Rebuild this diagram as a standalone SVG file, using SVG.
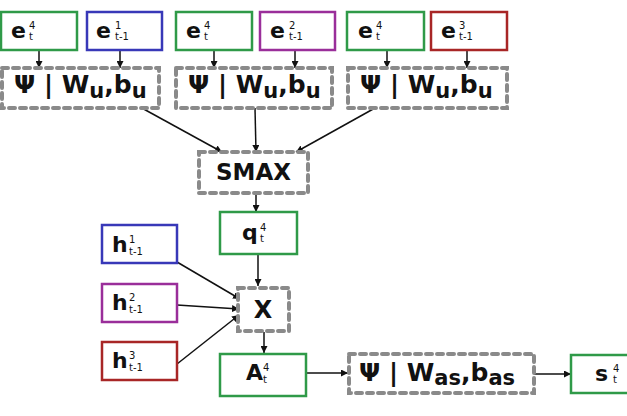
<svg xmlns="http://www.w3.org/2000/svg" width="627" height="416" viewBox="0 0 627 416">
<style>
.box{fill:#fff;stroke-width:2.5}
.g{stroke:#2f9a48}.b{stroke:#3838b8}.p{stroke:#9a2e9a}.r{stroke:#a82626}
.d{fill:#fff;stroke:#8a8a8a;stroke-width:4;stroke-dasharray:6 5;stroke-linecap:round}
text{font-family:"DejaVu Sans",sans-serif;fill:#111}
.big{font-weight:bold;font-size:22px}
.sm{font-size:10px}
.op{font-weight:bold;font-size:25px}
.sb{font-weight:bold;font-size:21px}
.c line{stroke:#111;stroke-width:1.5;marker-end:url(#ah)}
</style>
<defs>
<marker id="ah" viewBox="0 0 10 10" refX="10" refY="5" markerWidth="7" markerHeight="7" orient="auto" markerUnits="userSpaceOnUse"><path d="M0,0L10,5L0,10z" fill="#111"/></marker>
</defs>
<g class="c">
<line x1="39" y1="50" x2="39" y2="68"/>
<line x1="120" y1="50" x2="120" y2="68"/>
<line x1="214" y1="50" x2="214" y2="68"/>
<line x1="295" y1="50" x2="295" y2="68"/>
<line x1="387" y1="50" x2="387" y2="68"/>
<line x1="467" y1="50" x2="467" y2="68"/>
<line x1="140" y1="107" x2="222" y2="152"/>
<line x1="255" y1="108" x2="256" y2="152"/>
<line x1="375" y1="108" x2="296" y2="152"/>
<line x1="256" y1="193" x2="256" y2="212"/>
<line x1="258" y1="254" x2="258" y2="286"/>
<line x1="177" y1="262" x2="240" y2="299"/>
<line x1="177" y1="305" x2="239" y2="309"/>
<line x1="177" y1="364" x2="239" y2="315"/>
<line x1="264" y1="332" x2="264" y2="353"/>
<line x1="306" y1="373" x2="348" y2="373"/>
<line x1="534" y1="374" x2="571" y2="374"/>
</g>
<g id="e4t_a"><rect class="box g" x="1" y="12" width="76" height="38"/><text class="big" x="11" y="38">e</text><text class="sm" x="29" y="29">4</text><text class="sm" x="29" y="40">t</text></g>
<g id="e1t1"><rect class="box b" x="87" y="12" width="75" height="38"/><text class="big" x="96" y="38">e</text><text class="sm" x="115" y="29">1</text><text class="sm" x="115" y="40">t-1</text></g>
<g id="e4t_b"><rect class="box g" x="176" y="12" width="76" height="38"/><text class="big" x="186" y="38">e</text><text class="sm" x="204" y="29">4</text><text class="sm" x="204" y="40">t</text></g>
<g id="e2t1"><rect class="box p" x="260" y="12" width="75" height="38"/><text class="big" x="270" y="38">e</text><text class="sm" x="289" y="29">2</text><text class="sm" x="289" y="40">t-1</text></g>
<g id="e4t_c"><rect class="box g" x="347" y="12" width="77" height="38"/><text class="big" x="358" y="38">e</text><text class="sm" x="376" y="29">4</text><text class="sm" x="376" y="40">t</text></g>
<g id="e3t1"><rect class="box r" x="431" y="12" width="76" height="38"/><text class="big" x="441" y="38">e</text><text class="sm" x="459" y="29">3</text><text class="sm" x="459" y="40">t-1</text></g>
<g id="psi1"><rect class="d" x="2" y="68" width="157" height="40"/><text class="op" x="14" y="93">Ψ | W<tspan class="sb" dy="5">u</tspan><tspan dy="-5">,b</tspan><tspan class="sb" dy="5">u</tspan></text></g>
<g id="psi2"><rect class="d" x="176" y="68" width="156" height="40"/><text class="op" x="188" y="93">Ψ | W<tspan class="sb" dy="5">u</tspan><tspan dy="-5">,b</tspan><tspan class="sb" dy="5">u</tspan></text></g>
<g id="psi3"><rect class="d" x="348" y="68" width="159" height="40"/><text class="op" x="360" y="93">Ψ | W<tspan class="sb" dy="5">u</tspan><tspan dy="-5">,b</tspan><tspan class="sb" dy="5">u</tspan></text></g>
<g id="smax"><rect class="d" x="199" y="152" width="109" height="41"/><text class="op" x="253.5" y="180" text-anchor="middle" style="font-size:23px">SMAX</text></g>
<g id="q4t"><rect class="box g" x="220" y="212" width="77" height="42"/><text class="big" x="242" y="240">q</text><text class="sm" x="260" y="231">4</text><text class="sm" x="260" y="242">t</text></g>
<g id="h1"><rect class="box b" x="102" y="225" width="75" height="38"/><text class="big" x="112" y="252">h</text><text class="sm" x="129" y="243">1</text><text class="sm" x="129" y="255">t-1</text></g>
<g id="h2"><rect class="box p" x="102" y="284" width="75" height="38"/><text class="big" x="112" y="310">h</text><text class="sm" x="129" y="301">2</text><text class="sm" x="129" y="313">t-1</text></g>
<g id="h3"><rect class="box r" x="102" y="342" width="75" height="38"/><text class="big" x="112" y="368">h</text><text class="sm" x="129" y="359">3</text><text class="sm" x="129" y="371">t-1</text></g>
<g id="X"><rect class="d" x="238" y="288" width="51" height="43"/><text class="op" x="263" y="318" text-anchor="middle" style="font-size:24px">X</text></g>
<g id="A4t"><rect class="box g" x="220" y="354" width="86" height="42"/><text class="big" x="246" y="380">A</text><text class="sm" x="263" y="371">4</text><text class="sm" x="263" y="383">t</text></g>
<g id="psias"><rect class="d" x="349" y="354" width="185" height="39"/><text class="op" x="359" y="381">Ψ | W<tspan class="sb" dy="4">as</tspan><tspan dy="-4">,b</tspan><tspan class="sb" dy="4">as</tspan></text></g>
<g id="s4t"><rect class="box g" x="571" y="355" width="60" height="38"/><text class="big" x="595" y="381">s</text><text class="sm" x="613" y="372">4</text><text class="sm" x="613" y="383">t</text></g>
</svg>
